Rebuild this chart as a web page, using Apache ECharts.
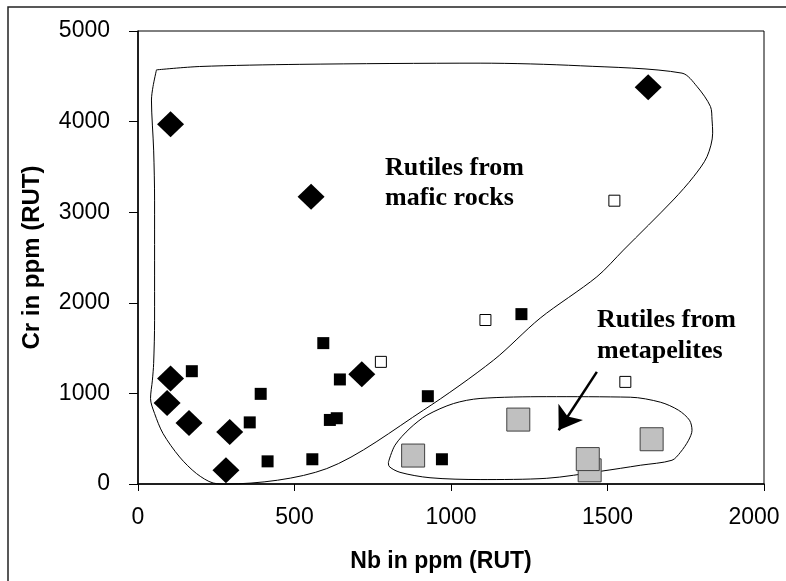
<!DOCTYPE html>
<html>
<head>
<meta charset="utf-8">
<script src="https://cdn.jsdelivr.net/npm/echarts@6/dist/echarts.min.js"></script>
<style>
  html, body { margin: 0; padding: 0; background: #fff; }
  #chart { width: 786px; height: 581px; }
</style>
</head>
<body>
<div id="chart"></div>
<script>
// Nb vs Cr in rutile (ppm)
const xTicks = [0, 500, 1000, 1500, 2000];
const yTicks = [0, 1000, 2000, 3000, 4000, 5000];

// Rutiles from mafic rocks (large diamonds) [Nb, Cr]
const maficDiamonds = [
  [104, 3970], [1630, 4380], [553, 3170], [104, 1165], [715, 1212],
  [93, 895], [163, 674], [293, 575], [281, 151]
];
// Filled small squares [Nb, Cr]
const blackSquares = [
  [172, 1245], [392, 995], [592, 1555], [645, 1154], [357, 680],
  [613, 707], [635, 726], [414, 250], [557, 273], [1225, 1875],
  [926, 969], [971, 273]
];
// Open small squares [Nb, Cr]
const openSquares = [
  [1110, 1810], [776, 1348], [1557, 1127], [1522, 3127]
];
// Rutiles from metapelites (large grey squares) [Nb, Cr]
const greySquares = [
  [1443, 151], [879, 314], [1215, 711], [1437, 275], [1641, 494]
];

// Outline of the mafic-rock field [Nb, Cr]
const maficField = [
  [59, 4571], [197, 4608], [517, 4632], [1093, 4645], [1413, 4616],
  [1738, 4535], [1786, 4387], [1829, 4166], [1834, 4019], [1836, 3872],
  [1818, 3613], [1775, 3392], [1710, 3135], [1551, 2582], [1466, 2287],
  [1285, 1831], [1136, 1367], [912, 815], [603, 170], [283, 0],
  [240, 11], [187, 115], [133, 298], [80, 557], [53, 778],
  [40, 944], [46, 1146], [50, 1331], [53, 1807], [53, 3133],
  [50, 3685], [43, 4238], [48, 4387], [59, 4571]
];
// Outline of the metapelite field [Nb, Cr]
const peliteField = [
  [800, 240], [821, 428], [869, 615], [923, 759], [1008, 888],
  [1093, 944], [1306, 964], [1573, 958], [1669, 903], [1727, 814],
  [1762, 704], [1770, 593], [1759, 483], [1733, 350], [1706, 262],
  [1605, 207], [1477, 140], [1306, 63], [1093, 49], [933, 69],
  [837, 129], [802, 196], [800, 240]
];
// Arrow pointing into the metapelite field [Nb, Cr]
const arrowFrom = [1466, 1238];
const arrowTo = [1344, 593];

const sansFont = '"Liberation Sans", Arial, sans-serif';
const serifFont = '"Liberation Serif", "Times New Roman", serif';
const plain = v => String(v);
// the last x label is nudged left so it stays inside the frame
const xLabel = v => (v === xTicks[xTicks.length - 1] ? '{last|' + v + '}' : String(v));

const chart = echarts.init(document.getElementById('chart'), null, { renderer: 'canvas' });

chart.setOption({
  animation: false,
  backgroundColor: '#fff',
  grid: {
    left: 138, top: 31, right: 22, bottom: 97,
    outerBoundsMode: 'none', containLabel: false,
    show: true, borderColor: '#000', borderWidth: 1, backgroundColor: 'transparent'
  },
  xAxis: {
    type: 'value', min: xTicks[0], max: xTicks[xTicks.length - 1], interval: 500,
    name: 'Nb in ppm (RUT)', nameLocation: 'middle', nameGap: 66,
    nameTextStyle: { fontFamily: sansFont, fontWeight: 'bold', fontSize: 23, color: '#000', padding: [0, 20, 0, 0] },
    axisLine: { show: true, onZero: false, lineStyle: { color: '#000', width: 1.5 } },
    axisTick: { show: true, inside: false, length: 7, lineStyle: { color: '#000', width: 1 } },
    axisLabel: {
      fontFamily: sansFont, fontSize: 23, color: '#000', margin: 22, formatter: xLabel,
      rich: { last: { fontFamily: sansFont, fontSize: 23, color: '#000', padding: [0, 20, 0, 0] } }
    },
    splitLine: { show: false }
  },
  yAxis: {
    type: 'value', min: yTicks[0], max: yTicks[yTicks.length - 1], interval: 1000,
    name: 'Cr in ppm (RUT)', nameLocation: 'middle', nameGap: 94, nameRotate: 90,
    nameTextStyle: { fontFamily: sansFont, fontWeight: 'bold', fontSize: 24, color: '#000' },
    axisLine: { show: true, onZero: false, lineStyle: { color: '#000', width: 1.5 } },
    axisTick: { show: true, inside: false, length: 9, lineStyle: { color: '#000', width: 1 } },
    axisLabel: { fontFamily: sansFont, fontSize: 23, color: '#000', margin: 28, formatter: plain },
    splitLine: { show: false }
  },
  graphic: [
    {
      type: 'rect', silent: true, z: -1,
      shape: { x: 8, y: 7, width: 900, height: 700 },
      style: { fill: 'none', stroke: '#222', lineWidth: 1.5 }
    },
    {
      type: 'text', left: 385, top: 153, silent: true,
      style: {
        text: 'Rutiles from\nmafic rocks', font: 'bold 26px ' + serifFont,
        fill: '#000', lineHeight: 30
      }
    },
    {
      type: 'text', left: 597, top: 305, silent: true,
      style: {
        text: 'Rutiles from\nmetapelites', font: 'bold 26px ' + serifFont,
        fill: '#000', lineHeight: 31
      }
    }
  ],
  series: [
    {
      name: 'mafic field', type: 'line', data: maficField, smooth: 0.3,
      symbol: 'none', clip: false, silent: true, z: 1,
      lineStyle: { color: '#000', width: 1 }
    },
    {
      name: 'metapelite field', type: 'line', data: peliteField, smooth: 0.3,
      symbol: 'none', clip: false, silent: true, z: 1,
      lineStyle: { color: '#000', width: 1 },
      markLine: {
        silent: true, symbol: ['none', 'arrow'], symbolSize: 22,
        label: { show: false },
        lineStyle: { color: '#000', width: 2.5, type: 'solid', opacity: 1 },
        itemStyle: { color: '#000' },
        emphasis: { disabled: true },
        data: [[{ coord: arrowFrom }, { coord: arrowTo }]]
      }
    },
    {
      name: 'mafic rutile', type: 'scatter', data: maficDiamonds, z: 3,
      symbol: 'diamond', symbolSize: [27, 26],
      itemStyle: { color: '#000', opacity: 1 }
    },
    {
      name: 'filled', type: 'scatter', data: blackSquares, z: 3,
      symbol: 'rect', symbolSize: 12,
      itemStyle: { color: '#000', opacity: 1 }
    },
    {
      name: 'open', type: 'scatter', data: openSquares, z: 3,
      symbol: 'rect', symbolSize: 11,
      itemStyle: { color: '#fff', borderColor: '#000', borderWidth: 1, opacity: 1 }
    },
    {
      name: 'metapelite rutile', type: 'scatter', data: greySquares, z: 3,
      symbol: 'rect', symbolSize: 23,
      itemStyle: { color: '#c0c0c0', borderColor: '#404040', borderWidth: 1, opacity: 1 }
    }
  ]
});
</script>
</body>
</html>
